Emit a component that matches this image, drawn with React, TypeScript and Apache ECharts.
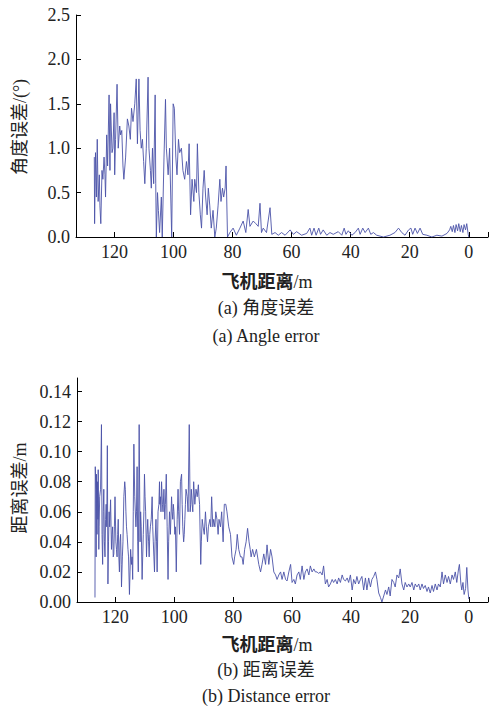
import React, { useEffect, useRef } from "react";
import * as echarts from "echarts";

// Angle error (°) versus aircraft distance (m): [distance, error]
const angleError: [number, number][] = [
  [126.8, 0.9], [126.7, 0.15], [126.4, 0.95], [126.1, 0.45], [125.8, 1.1], [125.5, 0.4], [125.1, 0.7], [124.9, 0.35],
  [124.6, 0.15], [124.2, 0.75], [123.9, 0.65], [123.5, 0.9], [123.2, 0.7], [123.0, 0.45], [122.6, 1.15], [122.3, 0.8],
  [121.8, 1.6], [121.5, 0.75], [121.3, 1.5], [120.8, 0.95], [120.5, 1.0], [120.1, 1.4], [119.9, 0.7], [119.6, 1.1],
  [119.1, 1.72], [118.7, 1.0], [118.2, 1.25], [117.9, 1.15], [117.5, 1.2], [117.1, 0.8], [116.8, 0.65], [116.2, 0.9],
  [115.6, 1.33], [115.1, 1.25], [114.6, 1.1], [114.2, 1.45], [113.7, 1.3], [113.1, 1.5], [112.6, 1.78], [112.2, 1.05],
  [111.7, 1.78], [111.3, 1.2], [110.9, 1.0], [110.5, 1.1], [110.1, 0.85], [109.7, 0.6], [109.2, 1.0], [108.6, 1.8],
  [108.3, 1.0], [107.8, 0.75], [107.5, 0.55], [107.1, 1.0], [106.7, 0.6], [106.2, 1.6], [106.0, 0.6], [105.8, 0.0],
  [105.4, 0.5], [105.1, 0.3], [104.7, 0.05], [104.1, 0.45], [103.8, 0.0], [103.5, 0.45], [103.2, 0.9], [102.7, 1.55],
  [102.4, 1.0], [101.8, 0.7], [101.3, 1.0], [100.6, 0.0], [100.1, 1.5], [99.7, 1.45], [99.2, 0.9], [98.8, 0.7],
  [98.3, 1.1], [97.9, 0.95], [97.3, 1.0], [96.8, 0.75], [96.2, 0.65], [95.6, 0.85], [95.1, 0.7], [94.7, 1.05],
  [94.2, 0.25], [93.7, 0.65], [93.1, 0.4], [92.8, 0.65], [92.2, 0.5], [91.9, 1.05], [91.4, 0.5], [90.9, 0.25],
  [90.5, 0.1], [90.0, 0.55], [89.6, 0.75], [89.1, 0.45], [88.6, 0.25], [88.2, 0.55], [87.7, 0.35], [87.2, 0.1],
  [86.6, 0.3], [86.0, 0.0], [85.5, 0.1], [84.9, 0.35], [84.3, 0.65], [83.9, 0.4], [83.4, 0.55], [83.0, 0.45],
  [82.5, 0.55], [82.2, 0.8], [81.7, 0.0], [80.9, 0.05], [79.8, 0.1], [78.7, 0.02],
  [77.5, 0.1], [76.4, 0.18], [75.5, 0.05], [74.7, 0.31], [74.1, 0.12], [73.0, 0.18], [72.1, 0.15], [71.3, 0.12],
  [70.7, 0.38], [70.2, 0.05], [69.6, 0.1], [68.5, 0.05], [67.3, 0.33], [66.7, 0.03], [65.6, 0.05], [64.5, 0.02],
  [63.4, 0.05], [62.2, 0.02], [60.5, 0.08], [59.4, 0.03], [58.3, 0.06], [56.6, 0.02], [54.9, 0.04], [53.8, 0.1],
  [53.2, 0.02], [52.4, 0.1], [51.7, 0.02], [50.8, 0.1], [50.2, 0.03], [49.3, 0.08], [48.1, 0.02], [47.0, 0.05],
  [45.9, 0.03], [44.2, 0.06], [43.0, 0.02], [42.2, 0.1], [41.6, 0.03], [40.8, 0.07], [39.6, 0.02], [38.5, 0.05],
  [37.4, 0.1], [36.8, 0.03], [35.9, 0.1], [35.1, 0.05], [34.0, 0.1], [33.2, 0.03], [32.3, 0.05], [31.2, 0.02],
  [28.9, 0.0], [26.7, 0.02], [25.0, 0.05], [23.8, 0.1], [22.7, 0.05], [21.6, 0.02], [20.4, 0.08], [19.6, 0.1],
  [19.0, 0.03], [18.2, 0.1], [17.4, 0.04], [16.5, 0.1], [15.6, 0.03], [14.2, 0.02], [12.5, 0.0], [10.8, 0.02],
  [9.1, 0.01], [7.4, 0.04], [6.5, 0.08], [6.1, 0.12], [5.6, 0.06], [5.2, 0.13], [4.7, 0.05], [4.3, 0.14],
  [3.8, 0.07], [3.4, 0.15], [2.9, 0.06], [2.5, 0.13], [2.0, 0.05], [1.6, 0.14], [1.1, 0.08], [0.7, 0.15],
  [0.2, 0.03], [0.0, 0.0],
];

// Distance error (m) versus aircraft distance (m): [distance, error]
const distanceError: [number, number][] = [
  [126.9, 0.003], [126.8, 0.09], [126.6, 0.075], [126.5, 0.03], [126.4, 0.085], [126.2, 0.045], [126.1, 0.08], [125.9, 0.055],
  [125.8, 0.088], [125.6, 0.035], [125.5, 0.05], [125.3, 0.07], [125.0, 0.075], [124.7, 0.118], [124.5, 0.045], [124.3, 0.025],
  [124.1, 0.06], [123.9, 0.075], [123.7, 0.04], [123.5, 0.03], [123.3, 0.055], [123.1, 0.065], [122.9, 0.05], [122.7, 0.104],
  [122.5, 0.012], [122.3, 0.04], [122.1, 0.06], [121.9, 0.05], [121.6, 0.068], [121.3, 0.035], [121.1, 0.045], [120.9, 0.05],
  [120.7, 0.03], [120.5, 0.032], [120.3, 0.05], [120.1, 0.07], [119.8, 0.04], [119.6, 0.035], [119.4, 0.03], [119.2, 0.045],
  [119.0, 0.055], [118.8, 0.03], [118.6, 0.02], [118.4, 0.04], [118.2, 0.045], [118.0, 0.025], [117.9, 0.01], [117.6, 0.03],
  [117.4, 0.04], [117.1, 0.07], [116.8, 0.08], [116.6, 0.075], [116.4, 0.06], [116.2, 0.05], [116.0, 0.045], [115.7, 0.035],
  [115.5, 0.03], [115.2, 0.005], [115.0, 0.02], [114.8, 0.035], [114.5, 0.025], [114.3, 0.03], [114.1, 0.015], [113.9, 0.06],
  [113.7, 0.105], [113.4, 0.07], [113.0, 0.05], [112.8, 0.06], [112.6, 0.09], [112.4, 0.04], [112.2, 0.02], [111.9, 0.118],
  [111.6, 0.04], [111.4, 0.06], [111.2, 0.05], [110.9, 0.015], [110.7, 0.03], [110.5, 0.045], [110.3, 0.06], [110.1, 0.085],
  [109.9, 0.07], [109.7, 0.06], [109.4, 0.03], [109.2, 0.045], [109.0, 0.055], [108.7, 0.04], [108.5, 0.03], [108.3, 0.045],
  [108.1, 0.05], [107.8, 0.055], [107.5, 0.07], [107.3, 0.05], [107.1, 0.04], [106.9, 0.03], [106.7, 0.02], [106.5, 0.04],
  [106.2, 0.055], [106.0, 0.04], [105.8, 0.02], [105.5, 0.06], [105.2, 0.065], [105.0, 0.08], [104.9, 0.065], [104.7, 0.07],
  [104.5, 0.06], [104.3, 0.08], [104.0, 0.065], [103.8, 0.06], [103.5, 0.075], [103.2, 0.055], [103.0, 0.065], [102.7, 0.085],
  [102.4, 0.05], [102.1, 0.015], [101.9, 0.04], [101.6, 0.06], [101.3, 0.045], [100.9, 0.07], [100.7, 0.06], [100.5, 0.055],
  [100.3, 0.065], [100.1, 0.06], [99.8, 0.045], [99.6, 0.05], [99.3, 0.02], [99.0, 0.055], [98.7, 0.075], [98.5, 0.06],
  [98.2, 0.045], [97.9, 0.08], [97.5, 0.085], [97.3, 0.065], [97.1, 0.05], [96.8, 0.04], [96.6, 0.045], [96.4, 0.055],
  [96.2, 0.065], [96.0, 0.075], [95.6, 0.07], [95.3, 0.06], [94.9, 0.118], [94.6, 0.06], [94.4, 0.065], [94.2, 0.075],
  [93.9, 0.065], [93.7, 0.06], [93.4, 0.08], [93.0, 0.065], [92.6, 0.075], [92.2, 0.07], [91.8, 0.078], [91.6, 0.07],
  [91.4, 0.065], [91.0, 0.025], [90.8, 0.04], [90.5, 0.055], [90.2, 0.05], [89.8, 0.045], [89.4, 0.06], [89.1, 0.05],
  [88.7, 0.04], [88.4, 0.05], [87.9, 0.055], [87.6, 0.05], [87.3, 0.07], [86.9, 0.05], [86.6, 0.055], [86.2, 0.05],
  [85.9, 0.06], [85.5, 0.055], [85.1, 0.045], [84.8, 0.055], [84.3, 0.05], [83.9, 0.06], [83.4, 0.04], [83.0, 0.065],
  [82.5, 0.065], [82.1, 0.06], [81.5, 0.05], [80.9, 0.045], [80.4, 0.03], [79.8, 0.025], [79.5, 0.03], [79.0, 0.035],
  [78.6, 0.045], [78.1, 0.035], [77.5, 0.03], [77.0, 0.03], [76.6, 0.025], [76.1, 0.035], [75.6, 0.04], [75.1, 0.049],
  [74.6, 0.04], [74.2, 0.035], [73.9, 0.03], [73.4, 0.035], [72.8, 0.03], [72.1, 0.035], [71.3, 0.025], [70.7, 0.02],
  [70.2, 0.025], [69.6, 0.032], [69.0, 0.025], [68.5, 0.038], [67.9, 0.025], [67.3, 0.035], [66.8, 0.03], [66.2, 0.02],
  [65.6, 0.018], [65.1, 0.015], [64.5, 0.018], [63.9, 0.02], [63.4, 0.015], [62.8, 0.02], [62.2, 0.015], [61.7, 0.014],
  [61.1, 0.02], [60.5, 0.025], [60.0, 0.013], [59.4, 0.015], [58.9, 0.012], [58.3, 0.018], [57.7, 0.02], [57.2, 0.015],
  [56.6, 0.024], [56.0, 0.015], [55.5, 0.02], [54.9, 0.022], [54.3, 0.018], [53.8, 0.024], [53.2, 0.02], [52.6, 0.022],
  [52.1, 0.02], [51.5, 0.02], [51.0, 0.019], [50.4, 0.02], [49.8, 0.018], [49.3, 0.024], [48.7, 0.012], [48.1, 0.015],
  [47.6, 0.01], [47.0, 0.012], [46.4, 0.015], [45.9, 0.013], [45.3, 0.015], [44.7, 0.012], [44.2, 0.016], [43.6, 0.013],
  [43.0, 0.018], [42.5, 0.015], [41.9, 0.014], [41.3, 0.016], [40.8, 0.013], [40.2, 0.018], [39.6, 0.008], [39.1, 0.015],
  [38.5, 0.012], [38.0, 0.017], [37.4, 0.012], [36.8, 0.015], [36.3, 0.017], [35.7, 0.008], [35.1, 0.016], [34.6, 0.008],
  [34.0, 0.016], [33.4, 0.01], [32.9, 0.015], [32.3, 0.017], [31.7, 0.02], [31.2, 0.015], [30.6, 0.006], [30.0, 0.003],
  [29.5, 0.0], [28.9, 0.004], [28.3, 0.008], [27.8, 0.005], [27.2, 0.01], [26.7, 0.004], [26.1, 0.015], [25.5, 0.013],
  [25.0, 0.01], [24.4, 0.018], [23.8, 0.016], [23.3, 0.022], [22.7, 0.012], [22.1, 0.008], [21.6, 0.013], [21.0, 0.01],
  [20.4, 0.012], [19.9, 0.01], [19.3, 0.013], [18.7, 0.008], [18.2, 0.012], [17.6, 0.01], [17.0, 0.012], [16.5, 0.008],
  [15.9, 0.012], [15.4, 0.009], [14.8, 0.011], [14.2, 0.007], [13.7, 0.01], [13.1, 0.006], [12.5, 0.011], [12.0, 0.007],
  [11.4, 0.012], [10.8, 0.008], [10.3, 0.012], [9.7, 0.01], [9.1, 0.02], [8.6, 0.012], [8.0, 0.018], [7.4, 0.013],
  [6.9, 0.017], [6.3, 0.012], [5.7, 0.018], [5.2, 0.015], [4.6, 0.02], [4.1, 0.013], [3.5, 0.022], [3.2, 0.025],
  [2.7, 0.012], [2.4, 0.008], [2.0, 0.013], [1.6, 0.005], [1.1, 0.009], [0.7, 0.023], [0.3, 0.008], [0.0, 0.002],
];

const xLabelValues = [0, 20, 40, 60, 80, 100, 120];
const xTickValues = [-6.5, 0, 20, 40, 60, 80, 100, 120];
const xRange = [-6.5, 133];
const angleRange = [0, 2.5];
const distRange = [0, 0.149];

const xAxisNameMain = "飞机距离";
const xAxisNameUnit = "/m";
const angleYName = "角度误差/(°)";
const distYName = "距离误差/m";
const captionA = ["(a) 角度误差", "(a) Angle error"];
const captionB = ["(b) 距离误差", "(b) Distance error"];

const FONT = "'Liberation Serif', 'Noto Sans CJK SC', serif";
const TEXT = "#222";
const LINE = "#4b52a8";

export default function App() {
  const ref = useRef<HTMLDivElement>(null);
  useEffect(() => {
    if (!ref.current) return;
    const chart = echarts.init(ref.current, null, { renderer: "svg" });
    const xAxisBase = (gridIndex: number) => ({
      type: "value",
      gridIndex,
      min: xRange[0],
      max: xRange[1],
      inverse: true,
      axisLine: { show: true, onZero: false, lineStyle: { color: "#000", width: 1 } },
      axisTick: { show: true, inside: true, length: 5, customValues: xTickValues, lineStyle: { color: "#000" } },
      axisLabel: { customValues: xLabelValues, color: TEXT, fontSize: 18, fontFamily: FONT, margin: 6 },
      splitLine: { show: false },
    });
    const yAxisBase = (gridIndex: number, range: number[], interval: number, digits: number) => ({
      type: "value",
      gridIndex,
      position: "left",
      min: range[0],
      max: range[1],
      interval,
      axisLine: { show: true, onZero: false, lineStyle: { color: "#000", width: 1 } },
      axisTick: { show: true, inside: true, length: 5, lineStyle: { color: "#000" } },
      axisLabel: {
        color: TEXT,
        fontSize: 18,
        fontFamily: FONT,
        margin: 6,
        showMaxLabel: digits === 1,
        formatter: (v: number) => v.toFixed(digits),
      },
      splitLine: { show: false },
    });
    const txt = (text: string, x: number, y: number, rotation = 0) => ({
      type: "text",
      x,
      y,
      rotation,
      style: {
        text,
        fill: TEXT,
        font: `normal 18px ${FONT}`,
        align: "center",
        verticalAlign: "middle",
      },
    });
    const xName = (x: number, y: number) => ({
      type: "text",
      x,
      y,
      style: {
        text: `{a|${xAxisNameMain}}{b|${xAxisNameUnit}}`,
        align: "center",
        verticalAlign: "middle",
        rich: {
          a: { fill: TEXT, fontSize: 18, fontWeight: "bold", fontFamily: FONT },
          b: { fill: TEXT, fontSize: 18, fontWeight: "normal", fontFamily: FONT },
        },
      },
    });
    chart.setOption({
      animation: false,
      grid: [
        { left: 76, right: 10, top: 15, bottom: 707 - 237 },
        { left: 77, right: 10, top: 378, bottom: 707 - 602 },
      ],
      xAxis: [xAxisBase(0), xAxisBase(1)],
      yAxis: [yAxisBase(0, angleRange, 0.5, 1), yAxisBase(1, distRange, 0.02, 2)],
      series: [
        {
          type: "line",
          xAxisIndex: 0,
          yAxisIndex: 0,
          data: angleError,
          showSymbol: false,
          lineStyle: { color: LINE, width: 0.9 },
          itemStyle: { color: LINE },
        },
        {
          type: "line",
          xAxisIndex: 1,
          yAxisIndex: 1,
          data: distanceError,
          showSymbol: false,
          lineStyle: { color: LINE, width: 0.9 },
          itemStyle: { color: LINE },
        },
      ],
      graphic: [
        txt(angleYName, 20, 127, Math.PI / 2),
        xName(267, 282),
        txt(captionA[0], 266, 308),
        txt(captionA[1], 266, 336),
        txt(distYName, 20, 488, Math.PI / 2),
        xName(267, 645),
        txt(captionB[0], 266, 670),
        txt(captionB[1], 266, 696),
      ],
    });
    return () => chart.dispose();
  }, []);
  return <div ref={ref} style={{ position: "fixed", left: 0, top: 0, width: 498, height: 707, background: "#fff" }} />;
}
